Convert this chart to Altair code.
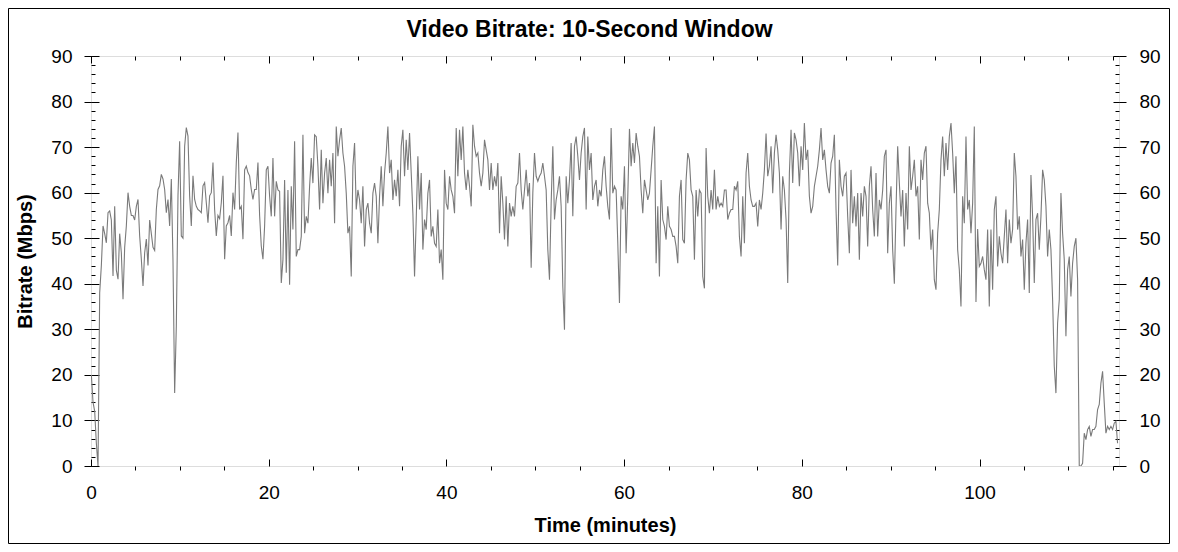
import altair as alt
import pandas as pd

# ---- data (Mbps, one reading every 0.1875 min) ----
T0_MIN = 0.04
STEP_MIN = 0.1875

seg1 = [20, 14, 12, 5, 0, 38, 44, 52.7, 51, 49,
        55.6, 56, 54, 41.7, 57, 43, 41, 51, 46.8, 36.6,
        48, 52.7, 60, 57, 55, 55, 54, 57, 58.5, 50.5,
        45.4, 39.5, 46.8, 49.8, 44, 54, 51, 48, 47.3, 56.3,
        60.7, 61.5, 64, 63, 60.7, 55.6, 58.5, 52.7, 63, 45,
        16, 30.7, 59.3, 71.3, 50.5, 50, 70.2, 74.3, 72.4, 59.3,
        52.7, 63.7, 58.5, 57, 56.3, 56, 55.6, 61.5, 62.2, 57.8,
        53.4, 59.3, 60, 66.6, 56.3, 50.5, 55, 54.3, 57.8, 63.7,
        45.4, 52.7, 53.4, 55, 50.5, 60, 56.3, 66.6, 73.2, 56.3,
        57, 49.8, 65, 65.8, 64.4, 63.7, 60.7, 58.5, 60.7, 60.7,
        66.6, 55, 48.3, 45.4, 52.7, 65, 65.8]
seg2 = [59.2, 54.8, 67.6, 54.8, 62.5, 60.6, 60.3, 40.2, 45.3, 62.8,
        42.4, 60.6, 39.8, 61.4, 51.9, 71.3, 46, 47.5, 47.5, 50.4,
        72.7, 51.1, 54.8, 53.3, 61.4, 67.6, 62.1, 72.7, 72.3, 65.8,
        56.3, 69.4, 57.7, 64.3, 67.6, 59.9, 67.2, 61.4, 68.7, 53.3,
        74.5, 68, 71.6, 74.2, 68.7, 65.8, 59.9, 51.1, 52.6, 41.6,
        65.8, 70.9, 56.3, 60.6, 58.4, 53.3, 61.4, 48.2, 56.3, 57.7,
        53.3, 51.1, 59.9, 62.1, 59.2, 48.9, 59.2, 65.8, 57, 64.3,
        68.7, 74.5, 64.3, 67.2, 58.4, 62.8, 59.2, 65, 57, 70.2,
        73.8, 63.6, 71.6, 65, 73.1, 64.3, 55.5, 41.6, 54.1, 68,
        56.3, 64.3, 47.5, 54.1, 51.9, 59.9, 62.8, 50.4, 52.6, 48.9,
        48.2, 56.3, 44.5, 47.5, 40.9, 65, 57.7, 56.3]
seg3 = [63.6, 60.6, 59.2, 55.5, 74.2, 63.6, 73.8, 67.2, 74.5, 64.3,
        60.6, 65, 61.4, 57, 74.9, 70.2, 68, 68.7, 64.3, 61.4,
        64.3, 71.6, 69.4, 67.2, 60.6, 66.5, 60.6, 63.6, 61.4, 66.5,
        51.1, 63.6, 57.7, 49.7, 59.2, 48.2, 57.7, 54.8, 57, 54.8,
        61.4, 62.1, 68.7, 60.6, 56.3, 60.6, 65, 59.2, 62.1, 43.5,
        60, 68.7, 63.6, 62.5, 63.6, 64.3, 66.5, 63.6, 60.6, 47.5,
        40.9, 57.7, 70.2, 54.1, 58.4, 60.6, 63.6, 57, 39.4, 29.9,
        63.6, 57.7, 62.8, 70.9, 54.8, 70.2, 72.3, 68, 62.8, 68.7,
        72.3, 74.2, 56.3, 72.3, 65, 68.7, 58.4, 61.4, 62.8, 57,
        60.6, 59.2, 65, 68, 61.4, 57, 54.1, 74.2, 59.9, 61.4,
        60.6, 48.9, 35.8, 59.2, 56.3, 65.8, 46.7, 59.2]
seg4 = [74, 65.8, 70.9, 66.5, 73.1, 70.2, 68, 60.6, 55.5, 62.8,
        60.6, 58.4, 59.9, 65, 70.2, 74.5, 44.5, 57, 41.6, 62.8,
        54.1, 52.6, 49.7, 57, 52.6, 51.9, 50.4, 50.4, 48.2, 44.5,
        59.2, 62.8, 49.7, 48.9, 62.8, 68.7, 67.2, 60.6, 59.2, 45.3,
        60.6, 54.8, 60.6, 59.9, 41.6, 39, 69.8, 59.2, 55.5, 60.6,
        56.3, 65, 56.3, 59.2, 57, 57.7, 57, 60.6, 60.6, 54.1,
        55.5, 56.3, 56.3, 61.4, 60.6, 62.5, 50.4, 46, 59.2, 48.9,
        64.3, 68.7, 61.4, 58.4, 57, 57, 57.7, 52.6, 58.4, 56.3,
        59.9, 65, 73, 63.6, 65.8, 70.2, 59.9, 68.7, 72.7, 69.4,
        64.3, 51.9, 63.6, 60.6, 54.1, 40.2, 64.3, 73.8, 62.1, 73.1,
        71.6, 68.7, 61.4, 70.2, 65, 75.3, 67.2, 69.4]
seg5 = [59.2, 55.5, 57, 61.4, 63.6, 65.8, 69.4, 74.2, 67.2, 69.4,
        65, 61.4, 59.9, 66.5, 68, 72.7, 56.3, 44, 67.2, 61.4,
        59.2, 63.6, 64.3, 54.8, 46.7, 65, 53.3, 59.2, 52.6, 59.9,
        45.3, 59.9, 54.8, 61.4, 59.2, 48.2, 61.4, 65.8, 56.3, 50.4,
        64.3, 50.4, 58.4, 56.3, 60.6, 68, 69.4, 46.7, 57.7, 61.4,
        47.5, 40, 56.3, 70.2, 62.1, 54.8, 60.6, 48.2, 59.9, 51.9,
        70.2, 60.6, 63.6, 67.2, 59.2, 61.4, 49.7, 67.2, 62.8, 68.7,
        70.2, 57.7, 55.5, 47.5, 51.9, 40.9, 38.7, 51.1, 56.3, 67.2,
        72.3, 63.6, 70.9, 65, 72.3, 75.3, 68.7, 59.9, 68, 47.5,
        43.1, 35, 59.2, 53.3, 72.3, 56.3, 58.4, 51.1, 57.7, 74.5,
        36, 52, 43.8, 44.5, 46, 43.1, 40.9, 51.9]
seg6 = [35, 51.9, 38.7, 56.3, 59.2, 43.8, 50.4, 46.7, 44.5, 50.4,
        56.3, 44.5, 54.1, 48.9, 51.9, 68.7, 63.6, 51.9, 54.8, 46,
        49.7, 38.7, 48.9, 54.1, 38, 63.9, 54.8, 40.2, 54.1, 55.5,
        47.5, 54.8, 65, 62.8, 57, 46, 51.9, 47.5, 36.5, 21.9,
        16, 31.4, 36.5, 59.9, 51.1, 45.3, 28.5, 43.1, 46, 37.2,
        44.5, 48.2, 50, 40.9, 0, 0, 0.6, 7.2, 5.8, 8,
        8.7, 6.5, 8, 8, 8.7, 12.4, 13.5, 18.2, 20.8, 13.8,
        7.2, 8.7, 8, 8.7, 8, 9.4, 9.8, 5]

bitrate = seg1 + seg2 + seg3 + seg4 + seg5 + seg6
minutes = [round(T0_MIN + STEP_MIN * i, 4) for i in range(len(bitrate))]
df = pd.DataFrame({"minutes": minutes, "mbps": bitrate})

TITLE = "Video Bitrate: 10-Second Window"

# ---- axis tick / label values ----
y_major = list(range(0, 91, 10))
y_minor = list(range(0, 91, 2))
x_major = list(range(0, 101, 20))
x_minor = list(range(0, 116, 5))
x_minor_only = [v for v in x_minor if v % 20]

W, H = 1028, 410
FONT = "Liberation Sans"
xs = alt.Scale(domain=[0, 115.7], nice=False, zero=False)
ys = alt.Scale(domain=[0, 90], nice=False)


def ax(**kw):
    base = dict(grid=False, domain=False, labels=False, ticks=True,
                tickColor="black", tickWidth=1, title=None, labelFlush=False,
                labelFont=FONT, labelFontSize=19, labelColor="black")
    base.update(kw)
    return alt.Axis(**base)


def layer(xaxis, yaxis, visible=False):
    if visible:
        base = alt.Chart(df).mark_line(color="#7a7a7a", strokeWidth=1.1, clip=True)
    else:
        base = alt.Chart(df).mark_line(strokeOpacity=0)
    return base.encode(
        x=alt.X("minutes:Q", scale=xs, axis=xaxis),
        y=alt.Y("mbps:Q", scale=ys, axis=yaxis),
    )


left_axis = ax(orient="left", values=y_major, tickSize=7, labels=True, labelPadding=12,
               title="Bitrate (Mbps)", titleFont=FONT, titleFontSize=20,
               titleFontWeight="bold", titleColor="black", titleAngle=270,
               titleX=-66, titleY=H / 2, titleAlign="center", titleBaseline="middle")
bottom_axis = ax(orient="bottom", values=x_major, ticks=False, labels=True, labelPadding=17,
                 title="Time (minutes)", titleFont=FONT, titleFontSize=20,
                 titleFontWeight="bold", titleColor="black",
                 titleX=W / 2, titleY=59, titleAlign="center", titleBaseline="middle")
right_axis = ax(orient="right", values=y_major, tickSize=7, labels=True, labelPadding=13)
bottom_minor = ax(orient="bottom", values=x_minor_only, tickSize=4)
bottom_major_in = ax(orient="top", offset=-H, values=x_major, tickSize=7)
top_major_in = ax(orient="bottom", offset=-H, values=x_major, tickSize=7)
top_minor_in = ax(orient="bottom", offset=-H, values=x_minor, tickSize=4)
left_major_in = ax(orient="right", offset=-W, values=y_major, tickSize=8)
left_minor_in = ax(orient="right", offset=-W, values=y_minor, tickSize=4)
right_major_in = ax(orient="left", offset=-W, values=y_major, tickSize=6)
right_minor_in = ax(orient="left", offset=-W, values=y_minor, tickSize=4)

one = pd.DataFrame({"k": [0]})

frame = alt.Chart(one).mark_rect(
    filled=False, stroke="black", strokeWidth=1
).encode(
    x=alt.value(-82.5), x2=alt.value(W + 50.5),
    y=alt.value(-47.5), y2=alt.value(H + 77.5),
)

title = alt.Chart(one).mark_text(
    text=TITLE, font=FONT, fontSize=23, fontWeight="bold", color="black",
    align="center", baseline="alphabetic",
).encode(x=alt.value(498.5), y=alt.value(-19))

chart = alt.layer(
    layer(bottom_axis, left_axis, visible=True),
    layer(bottom_minor, right_axis),
    layer(bottom_major_in, left_major_in),
    layer(top_major_in, left_minor_in),
    layer(top_minor_in, right_major_in),
    layer(None, right_minor_in),
    frame,
    title,
).resolve_scale(x="shared", y="shared").resolve_axis(
    x="independent", y="independent"
).properties(
    width=W, height=H,
    autosize=alt.AutoSizeParams(type="none"),
    padding={"left": 83, "top": 48, "right": 51, "bottom": 78},
).configure_view(stroke="black", strokeWidth=1).configure(background="white")

chart.save("out.html", embed_options={"renderer": "svg", "actions": False})
